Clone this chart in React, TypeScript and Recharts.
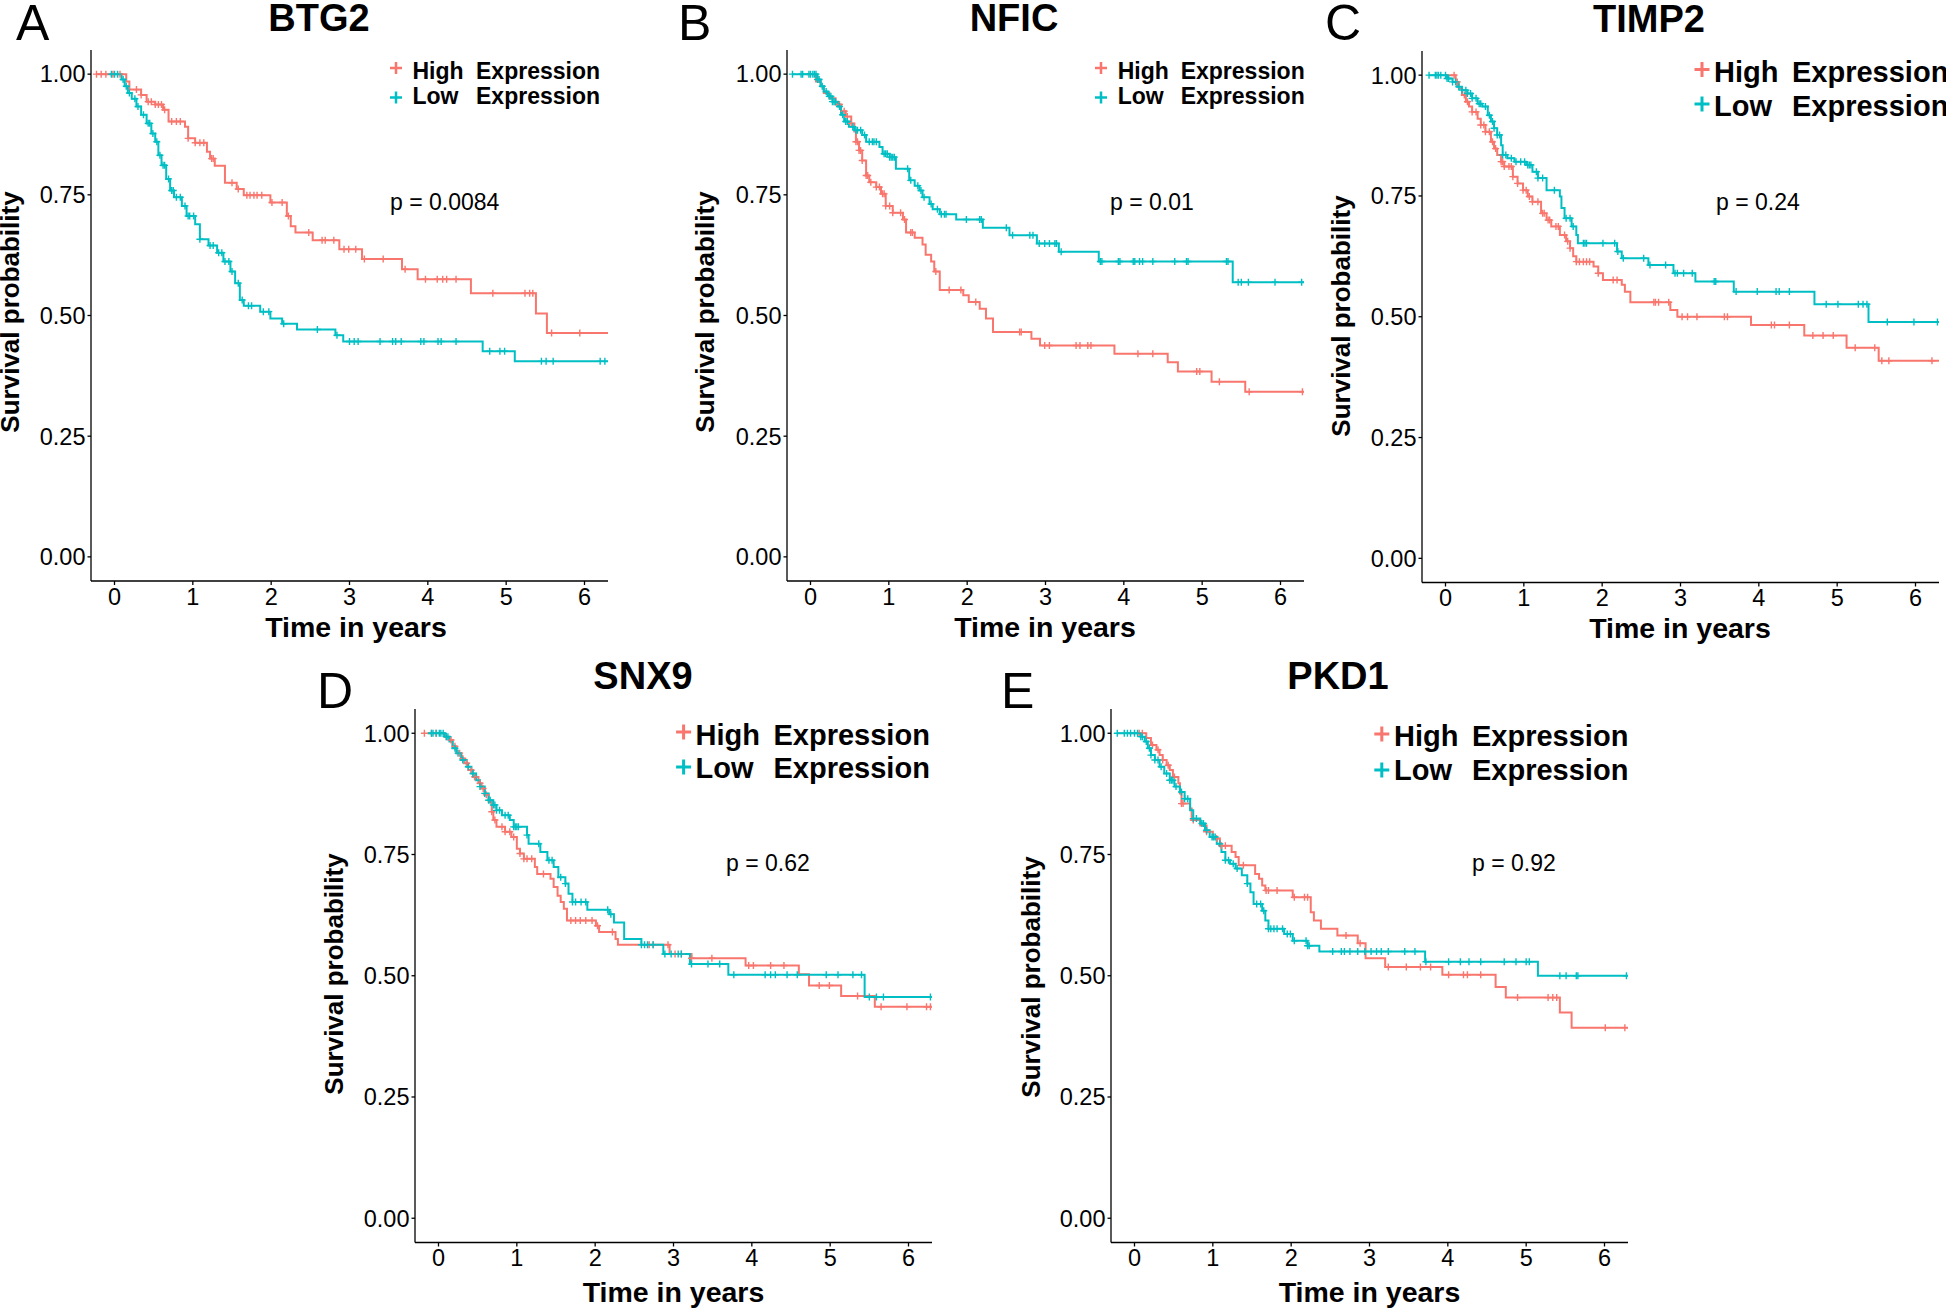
import React from 'react'
import { ComposedChart, Line, Scatter, XAxis, YAxis } from 'recharts'

type Step = [number, number]

const HIGH_COLOR = '#F8766D'
const LOW_COLOR = '#00BFC4'
const FONT = '"Liberation Sans", Arial, Helvetica, sans-serif'

const timeTicks = [0, 1, 2, 3, 4, 5, 6]
const survTicks = [0, 0.25, 0.5, 0.75, 1]
const T_MIN = -0.3
const T_MAX = 6.3
const T_END = 6.3
const S_MIN = -0.05
const S_MAX = 1.05

// A - BTG2
const btg2HighSteps: Step[] = [
  [-0.23, 1], [0.15, 0.985], [0.19, 0.968], [0.34, 0.957], [0.41, 0.943], [0.52, 0.937], [0.62, 0.926],
  [0.69, 0.902], [0.9, 0.891], [0.94, 0.867], [1.03, 0.858], [1.18, 0.839], [1.22, 0.825], [1.28, 0.81],
  [1.41, 0.775], [1.56, 0.762], [1.65, 0.749], [1.99, 0.734], [2.2, 0.706], [2.25, 0.685], [2.31, 0.672],
  [2.53, 0.656], [2.87, 0.637], [3.16, 0.617], [3.67, 0.596], [3.87, 0.575], [4.55, 0.546], [5.38, 0.504],
  [5.52, 0.464],
]
const btg2HighCensor = [
  -0.23, -0.17, -0.11, -0.02, 0.07, 0.28, 0.34, 0.43, 0.47, 0.52, 0.56, 0.6, 0.64, 0.73, 0.79, 0.84, 0.94,
  1.03, 1.09, 1.14, 1.24, 1.26, 1.5, 1.58, 1.69, 1.73, 1.78, 1.82, 1.88, 2.01, 2.14, 2.22, 2.48, 2.65, 2.69,
  2.8, 2.93, 2.99, 3.08, 3.19, 3.43, 3.71, 3.97, 4.12, 4.19, 4.24, 4.36, 4.83, 5.24, 5.3, 5.34, 5.58, 5.94,
]
const btg2LowSteps: Step[] = [
  [-0.06, 1], [0.09, 0.989], [0.13, 0.975], [0.17, 0.961], [0.22, 0.949], [0.28, 0.933], [0.34, 0.916],
  [0.41, 0.898], [0.47, 0.877], [0.52, 0.86], [0.56, 0.832], [0.6, 0.811], [0.66, 0.783], [0.71, 0.759],
  [0.76, 0.745], [0.86, 0.727], [0.92, 0.706], [1.03, 0.689], [1.09, 0.658], [1.2, 0.645], [1.31, 0.63],
  [1.39, 0.612], [1.48, 0.591], [1.54, 0.567], [1.6, 0.532], [1.65, 0.52], [1.86, 0.508], [1.99, 0.494],
  [2.14, 0.483], [2.33, 0.471], [2.82, 0.459], [2.92, 0.446], [4.7, 0.426], [5.11, 0.405],
]
const btg2LowCensor = [
  -0.04, 0, 0.04, 0.11, 0.15, 0.19, 0.26, 0.3, 0.37, 0.43, 0.45, 0.49, 0.54, 0.58, 0.62, 0.64, 0.69, 0.73,
  0.75, 0.79, 0.84, 0.9, 0.94, 0.96, 1.01, 1.09, 1.22, 1.26, 1.33, 1.37, 1.41, 1.46, 1.5, 1.58, 1.63, 1.71,
  1.75, 1.9, 1.97, 2.16, 2.59, 2.84, 3.0, 3.06, 3.11, 3.39, 3.55, 3.59, 3.66, 3.91, 3.95, 4.13, 4.17, 4.36,
  4.79, 4.92, 4.98, 5.45, 5.51, 5.6, 6.2, 6.26,
]

// B - NFIC
const nficHighSteps: Step[] = [
  [-0.05, 1], [0.07, 0.985], [0.13, 0.975], [0.17, 0.961], [0.24, 0.95], [0.32, 0.937], [0.39, 0.923],
  [0.45, 0.912], [0.52, 0.898], [0.56, 0.881], [0.58, 0.86], [0.62, 0.842], [0.66, 0.821], [0.71, 0.79],
  [0.75, 0.776], [0.84, 0.766], [0.9, 0.752], [0.96, 0.727], [1.05, 0.713], [1.18, 0.699], [1.22, 0.672],
  [1.33, 0.661], [1.43, 0.647], [1.47, 0.626], [1.54, 0.612], [1.58, 0.591], [1.65, 0.553], [1.95, 0.542],
  [2.02, 0.528], [2.16, 0.514], [2.24, 0.494], [2.33, 0.466], [2.82, 0.452], [2.93, 0.438], [3.88, 0.421],
  [4.56, 0.403], [4.69, 0.384], [5.12, 0.363], [5.55, 0.342],
]
const nficHighCensor = [
  0.37, 0.43, 0.47, 0.52, 0.58, 0.6, 0.62, 0.64, 0.66, 0.71, 0.73, 0.77, 0.84, 0.88, 0.92, 0.94, 0.96, 1.01,
  1.05, 1.15, 1.2, 1.28, 1.3, 1.6, 1.77, 1.92, 2.11, 2.67, 2.69, 2.99, 3.05, 3.39, 3.44, 3.54, 3.58, 4.18,
  4.37, 4.93, 4.97, 5.22, 5.6, 6.28,
]
const nficLowSteps: Step[] = [
  [-0.23, 1], [0.09, 0.989], [0.13, 0.975], [0.17, 0.964], [0.22, 0.954], [0.28, 0.943], [0.35, 0.933],
  [0.39, 0.916], [0.43, 0.902], [0.49, 0.891], [0.56, 0.884], [0.66, 0.874], [0.71, 0.86], [0.88, 0.849],
  [0.92, 0.835], [1.01, 0.828], [1.09, 0.804], [1.26, 0.78], [1.33, 0.769], [1.39, 0.759], [1.43, 0.745],
  [1.52, 0.731], [1.56, 0.72], [1.65, 0.71], [1.86, 0.699], [2.2, 0.682], [2.54, 0.666], [2.89, 0.649],
  [3.17, 0.632], [3.68, 0.612], [5.39, 0.569],
]
const nficLowCensor = [
  -0.23, -0.12, -0.1, -0.02, 0, 0.03, 0.05, 0.07, 0.09, 0.11, 0.15, 0.2, 0.24, 0.26, 0.28, 0.3, 0.32, 0.37,
  0.41, 0.45, 0.47, 0.54, 0.58, 0.6, 0.64, 0.69, 0.75, 0.79, 0.81, 0.84, 0.94, 0.96, 0.98, 1.01, 1.03, 1.05,
  1.07, 1.24, 1.28, 1.37, 1.41, 1.45, 1.54, 1.62, 1.67, 1.71, 1.73, 1.99, 2.16, 2.18, 2.5, 2.58, 2.8, 2.84,
  2.92, 2.99, 3.05, 3.12, 3.14, 3.2, 3.7, 3.72, 3.93, 3.95, 4.12, 4.14, 4.2, 4.24, 4.37, 4.65, 4.8, 4.82,
  5.31, 5.33, 5.46, 5.5, 5.59, 5.93, 6.27,
]

// C - TIMP2
const timp2HighSteps: Step[] = [
  [0, 1], [0.13, 0.986], [0.17, 0.972], [0.21, 0.959], [0.26, 0.945], [0.3, 0.935], [0.34, 0.924],
  [0.41, 0.91], [0.45, 0.897], [0.51, 0.883], [0.58, 0.862], [0.62, 0.848], [0.66, 0.835], [0.71, 0.821],
  [0.75, 0.811], [0.86, 0.79], [0.92, 0.776], [0.99, 0.762], [1.05, 0.749], [1.11, 0.738], [1.22, 0.714],
  [1.29, 0.7], [1.35, 0.687], [1.46, 0.669], [1.54, 0.656], [1.59, 0.642], [1.63, 0.625], [1.67, 0.614],
  [1.89, 0.604], [1.95, 0.59], [2.01, 0.576], [2.25, 0.566], [2.29, 0.552], [2.36, 0.53], [2.87, 0.514],
  [2.96, 0.5], [3.9, 0.483], [4.58, 0.461], [5.12, 0.436], [5.53, 0.409],
]
const timp2HighCensor = [
  0.11, 0.15, 0.24, 0.28, 0.34, 0.39, 0.45, 0.49, 0.51, 0.56, 0.6, 0.64, 0.71, 0.73, 0.75, 0.81, 0.84, 0.86,
  0.92, 0.99, 1.03, 1.07, 1.11, 1.18, 1.24, 1.26, 1.31, 1.33, 1.41, 1.44, 1.52, 1.56, 1.59, 1.67, 1.71, 1.76,
  1.8, 1.84, 1.95, 2.14, 2.19, 2.66, 2.68, 2.72, 2.85, 3.02, 3.09, 3.21, 3.56, 3.6, 4.16, 4.2, 4.39, 4.69,
  4.82, 4.95, 5.23, 5.48, 5.57, 5.66, 6.21,
]
const timp2LowSteps: Step[] = [
  [-0.21, 1], [0.02, 0.993], [0.09, 0.986], [0.15, 0.976], [0.21, 0.969], [0.28, 0.962], [0.34, 0.952],
  [0.41, 0.941], [0.47, 0.935], [0.54, 0.917], [0.58, 0.904], [0.62, 0.89], [0.66, 0.876], [0.71, 0.855],
  [0.73, 0.835], [0.79, 0.828], [0.88, 0.821], [1.03, 0.814], [1.11, 0.8], [1.18, 0.787], [1.29, 0.762],
  [1.46, 0.749], [1.48, 0.725], [1.52, 0.704], [1.61, 0.687], [1.67, 0.669], [1.69, 0.652], [2.19, 0.635],
  [2.25, 0.621], [2.59, 0.607], [2.91, 0.59], [3.19, 0.573], [3.68, 0.552], [4.71, 0.526], [5.4, 0.489],
]
const timp2LowCensor = [
  -0.21, -0.13, -0.11, -0.09, -0.06, 0, 0.02, 0.04, 0.09, 0.13, 0.17, 0.21, 0.26, 0.28, 0.32, 0.34, 0.39,
  0.43, 0.45, 0.51, 0.56, 0.6, 0.62, 0.66, 0.69, 0.73, 0.77, 0.84, 0.9, 0.96, 1.01, 1.05, 1.07, 1.09, 1.16,
  1.18, 1.24, 1.39, 1.54, 1.59, 1.63, 1.76, 1.78, 1.8, 2.01, 2.16, 2.2, 2.27, 2.53, 2.61, 2.81, 2.93, 2.96,
  3.04, 3.15, 3.43, 3.45, 3.71, 3.98, 4.22, 4.26, 4.39, 4.86, 5.01, 5.27, 5.33, 5.38, 5.64, 5.98, 6.28,
]

// D - SNX9
const snx9HighSteps: Step[] = [
  [-0.13, 1], [0.08, 0.993], [0.14, 0.986], [0.18, 0.973], [0.23, 0.959], [0.29, 0.948], [0.33, 0.938],
  [0.38, 0.924], [0.44, 0.91], [0.51, 0.897], [0.55, 0.886], [0.59, 0.873], [0.64, 0.859], [0.68, 0.838],
  [0.7, 0.821], [0.74, 0.807], [0.85, 0.797], [0.93, 0.786], [1.0, 0.762], [1.04, 0.752], [1.09, 0.741],
  [1.23, 0.724], [1.26, 0.71], [1.43, 0.7], [1.47, 0.683], [1.52, 0.665], [1.56, 0.652], [1.6, 0.638],
  [1.64, 0.614], [2.01, 0.603], [2.05, 0.59], [2.26, 0.576], [2.29, 0.564], [2.95, 0.545], [3.23, 0.536],
  [3.92, 0.521], [4.6, 0.503], [4.73, 0.48], [5.14, 0.458], [5.57, 0.436],
]
const snx9HighCensor = [
  -0.18, -0.09, -0.03, 0.1, 0.16, 0.21, 0.27, 0.31, 0.36, 0.42, 0.46, 0.53, 0.57, 0.61, 0.68, 0.72, 0.81,
  0.85, 0.91, 0.96, 1.04, 1.09, 1.13, 1.19, 1.34, 1.69, 1.75, 1.81, 1.88, 1.96, 2.03, 2.22, 2.69, 2.74, 2.93,
  3.02, 3.1, 3.23, 3.49, 3.96, 4.02, 4.24, 4.41, 4.86, 4.99, 5.35, 5.65, 5.98, 6.23, 6.28,
]
const snx9LowSteps: Step[] = [
  [-0.14, 1], [0.08, 0.993], [0.14, 0.983], [0.18, 0.969], [0.23, 0.959], [0.29, 0.945], [0.36, 0.931],
  [0.42, 0.917], [0.48, 0.903], [0.53, 0.89], [0.59, 0.876], [0.64, 0.862], [0.7, 0.852], [0.74, 0.841],
  [0.81, 0.831], [0.91, 0.821], [0.96, 0.807], [1.13, 0.79], [1.15, 0.772], [1.3, 0.755], [1.39, 0.738],
  [1.47, 0.724], [1.53, 0.703], [1.62, 0.69], [1.66, 0.669], [1.71, 0.652], [1.9, 0.636], [2.18, 0.627],
  [2.24, 0.61], [2.37, 0.576], [2.59, 0.564], [2.87, 0.545], [3.21, 0.524], [3.7, 0.502], [5.44, 0.456],
]
const snx9LowCensor = [
  -0.09, -0.07, -0.03, 0.01, 0.03, 0.06, 0.1, 0.12, 0.21, 0.25, 0.31, 0.38, 0.44, 0.53, 0.59, 0.64, 0.66,
  0.7, 0.72, 0.74, 0.78, 0.85, 0.89, 0.96, 0.98, 1.0, 1.02, 1.13, 1.28, 1.41, 1.45, 1.56, 1.62, 1.71, 1.75,
  1.82, 1.88, 2.16, 2.2, 2.59, 2.63, 2.67, 2.74, 2.89, 2.97, 3.06, 3.1, 3.23, 3.44, 3.59, 3.77, 4.17, 4.24,
  4.3, 4.45, 4.58, 4.95, 5.1, 5.29, 5.4, 5.5, 5.59, 5.68, 6.28,
]

// E - PKD1
const pkd1HighSteps: Step[] = [
  [-0.07, 1], [0.15, 0.99], [0.21, 0.976], [0.28, 0.966], [0.32, 0.955], [0.36, 0.945], [0.41, 0.934],
  [0.45, 0.924], [0.49, 0.91], [0.56, 0.897], [0.58, 0.876], [0.6, 0.855], [0.71, 0.845], [0.73, 0.821],
  [0.84, 0.81], [0.92, 0.797], [1.0, 0.783], [1.09, 0.768], [1.24, 0.755], [1.29, 0.745], [1.33, 0.728],
  [1.54, 0.71], [1.59, 0.7], [1.63, 0.686], [1.67, 0.676], [2.02, 0.662], [2.25, 0.631], [2.29, 0.614],
  [2.38, 0.597], [2.59, 0.583], [2.85, 0.567], [2.95, 0.536], [3.2, 0.518], [3.93, 0.502], [4.61, 0.477],
  [4.74, 0.455], [5.43, 0.424], [5.58, 0.393],
]
const pkd1HighCensor = [
  0.06, 0.1, 0.23, 0.3, 0.36, 0.43, 0.51, 0.6, 0.62, 0.75, 0.92, 1.05, 1.11, 1.16, 1.39, 1.68, 1.71, 1.82,
  2.04, 2.17, 2.21, 2.7, 2.88, 3.24, 3.47, 3.65, 3.78, 4.01, 4.2, 4.25, 4.42, 4.89, 5.28, 5.34, 5.39, 6.01,
  6.26,
]
const pkd1LowSteps: Step[] = [
  [-0.22, 1], [0.08, 0.993], [0.13, 0.983], [0.17, 0.969], [0.21, 0.955], [0.26, 0.945], [0.32, 0.931],
  [0.38, 0.917], [0.45, 0.903], [0.51, 0.89], [0.58, 0.879], [0.64, 0.865], [0.71, 0.841], [0.75, 0.824],
  [0.84, 0.814], [0.9, 0.8], [0.96, 0.786], [1.05, 0.772], [1.11, 0.755], [1.16, 0.738], [1.22, 0.731],
  [1.29, 0.721], [1.37, 0.707], [1.44, 0.69], [1.48, 0.672], [1.52, 0.648], [1.63, 0.634], [1.67, 0.614],
  [1.71, 0.597], [1.91, 0.586], [2.02, 0.572], [2.21, 0.562], [2.36, 0.55], [3.71, 0.529], [5.15, 0.5],
]
const pkd1LowCensor = [
  -0.22, -0.13, -0.09, -0.05, 0, 0.04, 0.08, 0.1, 0.15, 0.19, 0.21, 0.26, 0.3, 0.34, 0.41, 0.45, 0.47, 0.49,
  0.53, 0.6, 0.64, 0.68, 0.75, 0.79, 0.86, 0.88, 0.92, 0.99, 1.01, 1.03, 1.09, 1.16, 1.2, 1.26, 1.31, 1.44,
  1.56, 1.61, 1.65, 1.71, 1.74, 1.78, 1.82, 1.89, 1.95, 1.99, 2.04, 2.19, 2.21, 2.23, 2.53, 2.64, 2.68, 2.75,
  2.85, 2.94, 3.02, 3.09, 3.15, 3.24, 3.45, 3.58, 3.72, 4.01, 4.16, 4.27, 4.42, 4.72, 4.87, 5.0, 5.04, 5.43,
  5.51, 5.64, 5.66, 6.28,
]

type Pt = { t: number; s: number }

function survAt(steps: Step[], t: number): number {
  let s = steps[0][1]
  for (const [st, sv] of steps) {
    if (st <= t) s = sv
  }
  return s
}

function buildCurve(steps: Step[], censor: number[]) {
  const line: Pt[] = steps.map(([t, s]) => ({ t, s }))
  line.push({ t: T_END, s: steps[steps.length - 1][1] })
  const marks: Pt[] = censor.map((t) => ({ t, s: survAt(steps, t) }))
  return { line, marks }
}

type PanelCfg = {
  letter: string
  gene: string
  pText: string
  high: ReturnType<typeof buildCurve>
  low: ReturnType<typeof buildCurve>
  axisX: number
  plotTop: number
  plotH: number
  letterX: number
  letterY: number
  titleX: number
  titleY: number
  legPlusX: number
  legPlusY: [number, number]
  legTextX: number
  legExprX: number
  legBase: [number, number]
  legFont: number
  legPlus: number
  pX: number
  pY: number
  xTitleX: number
  xTitleY: number
  yTitleX: number
  yTitleY: number
}

const PLOT_W = 517

const panels: PanelCfg[] = [
  {
    letter: 'A', gene: 'BTG2', pText: 'p = 0.0084',
    high: buildCurve(btg2HighSteps, btg2HighCensor), low: buildCurve(btg2LowSteps, btg2LowCensor),
    axisX: 90.7, plotTop: 49.5, plotH: 531, letterX: 16, letterY: 40, titleX: 319, titleY: 31,
    legPlusX: 396, legPlusY: [68, 97.5], legTextX: 412.5, legExprX: 476, legBase: [78.5, 104], legFont: 23, legPlus: 12,
    pX: 390, pY: 209.5, xTitleX: 356, xTitleY: 637, yTitleX: 19, yTitleY: 312,
  },
  {
    letter: 'B', gene: 'NFIC', pText: 'p = 0.01',
    high: buildCurve(nficHighSteps, nficHighCensor), low: buildCurve(nficLowSteps, nficLowCensor),
    axisX: 787, plotTop: 49.5, plotH: 531, letterX: 678, letterY: 40, titleX: 1014, titleY: 31,
    legPlusX: 1101, legPlusY: [68, 97.5], legTextX: 1117.7, legExprX: 1180.7, legBase: [78.5, 104], legFont: 23, legPlus: 12,
    pX: 1110, pY: 209.5, xTitleX: 1045, xTitleY: 637, yTitleX: 714, yTitleY: 312,
  },
  {
    letter: 'C', gene: 'TIMP2', pText: 'p = 0.24',
    high: buildCurve(timp2HighSteps, timp2HighCensor), low: buildCurve(timp2LowSteps, timp2LowCensor),
    axisX: 1422, plotTop: 51, plotH: 531.5, letterX: 1325, letterY: 40, titleX: 1649, titleY: 32,
    legPlusX: 1702, legPlusY: [69.5, 104], legTextX: 1714, legExprX: 1792, legBase: [82, 115.5], legFont: 29, legPlus: 15,
    pX: 1716, pY: 210, xTitleX: 1680, xTitleY: 638, yTitleX: 1350, yTitleY: 316,
  },
  {
    letter: 'D', gene: 'SNX9', pText: 'p = 0.62',
    high: buildCurve(snx9HighSteps, snx9HighCensor), low: buildCurve(snx9LowSteps, snx9LowCensor),
    axisX: 415, plotTop: 709, plotH: 533.5, letterX: 317, letterY: 708, titleX: 643, titleY: 689,
    legPlusX: 683.6, legPlusY: [732, 767], legTextX: 695.6, legExprX: 773.5, legBase: [744.7, 778.4], legFont: 29, legPlus: 15,
    pX: 726, pY: 871, xTitleX: 673.5, xTitleY: 1301.5, yTitleX: 343, yTitleY: 974,
  },
  {
    letter: 'E', gene: 'PKD1', pText: 'p = 0.92',
    high: buildCurve(pkd1HighSteps, pkd1HighCensor), low: buildCurve(pkd1LowSteps, pkd1LowCensor),
    axisX: 1111, plotTop: 709, plotH: 533.5, letterX: 1001, letterY: 708, titleX: 1338, titleY: 689,
    legPlusX: 1381.8, legPlusY: [734, 770], legTextX: 1394, legExprX: 1472, legBase: [746, 779.6], legFont: 29, legPlus: 15,
    pX: 1472, pY: 871, xTitleX: 1369.5, xTitleY: 1302, yTitleX: 1040, yTitleY: 977,
  },
]

function censorShape(color: string) {
  return (props: any) => {
    const { cx, cy } = props
    if (cx == null || cy == null || Number.isNaN(cx)) return <g />
    return (
      <path
        d={`M${cx - 3.5},${cy}h7M${cx},${cy - 3.5}v7`}
        stroke={color}
        strokeWidth={1.4}
        fill="none"
      />
    )
  }
}

const ML = 80
const MT = 10
const MR = 10
const MB = 40

function KMPanel({ cfg }: { cfg: PanelCfg }) {
  const tickStyle = { fill: '#000', fontSize: 23.5, fontFamily: FONT }
  return (
    <div style={{ position: 'absolute', left: cfg.axisX - ML, top: cfg.plotTop - MT }}>
      <ComposedChart
        width={ML + PLOT_W + MR}
        height={MT + cfg.plotH + MB}
        margin={{ top: MT, right: MR, bottom: 0, left: 0 }}
      >
        <XAxis
          type="number"
          dataKey="t"
          domain={[T_MIN, T_MAX]}
          ticks={timeTicks}
          interval={0}
          allowDataOverflow
          height={MB}
          tickSize={4}
          tickMargin={3}
          stroke="#000"
          strokeWidth={1.3}
          tick={tickStyle}
        />
        <YAxis
          type="number"
          dataKey="s"
          domain={[S_MIN, S_MAX]}
          ticks={survTicks}
          interval={0}
          allowDataOverflow
          width={ML}
          tickSize={3.5}
          tickMargin={2}
          stroke="#000"
          strokeWidth={1.3}
          tick={tickStyle}
          tickFormatter={(v: number) => v.toFixed(2)}
        />
        <Line
          data={cfg.high.line}
          dataKey="s"
          type="stepAfter"
          stroke={HIGH_COLOR}
          strokeWidth={2}
          dot={false}
          activeDot={false}
          isAnimationActive={false}
        />
        <Line
          data={cfg.low.line}
          dataKey="s"
          type="stepAfter"
          stroke={LOW_COLOR}
          strokeWidth={2}
          dot={false}
          activeDot={false}
          isAnimationActive={false}
        />
        <Scatter data={cfg.high.marks} dataKey="s" shape={censorShape(HIGH_COLOR)} isAnimationActive={false} />
        <Scatter data={cfg.low.marks} dataKey="s" shape={censorShape(LOW_COLOR)} isAnimationActive={false} />
      </ComposedChart>
    </div>
  )
}

function Annotations({ cfg }: { cfg: PanelCfg }) {
  const h = cfg.legPlus / 2
  const legend = [
    { label: 'High', color: HIGH_COLOR },
    { label: 'Low', color: LOW_COLOR },
  ]
  return (
    <g fontFamily={FONT} fill="#000">
      <text x={cfg.letterX} y={cfg.letterY} fontSize={50}>
        {cfg.letter}
      </text>
      <text x={cfg.titleX} y={cfg.titleY} fontSize={38} fontWeight="bold" textAnchor="middle">
        {cfg.gene}
      </text>
      {legend.map((item, i) => (
        <g key={item.label}>
          <path
            d={`M${cfg.legPlusX - h},${cfg.legPlusY[i]}h${cfg.legPlus}M${cfg.legPlusX},${cfg.legPlusY[i] - h}v${cfg.legPlus}`}
            stroke={item.color}
            strokeWidth={cfg.legFont > 25 ? 3 : 2.5}
          />
          <text x={cfg.legTextX} y={cfg.legBase[i]} fontSize={cfg.legFont} fontWeight="bold">
            {item.label}
          </text>
          <text x={cfg.legExprX} y={cfg.legBase[i]} fontSize={cfg.legFont} fontWeight="bold">
            Expression
          </text>
        </g>
      ))}
      <text x={cfg.pX} y={cfg.pY} fontSize={23}>
        {cfg.pText}
      </text>
      <text x={cfg.xTitleX} y={cfg.xTitleY} fontSize={28.5} fontWeight="bold" textAnchor="middle">
        Time in years
      </text>
      <text
        x={cfg.yTitleX}
        y={cfg.yTitleY}
        fontSize={26}
        fontWeight="bold"
        textAnchor="middle"
        transform={`rotate(-90 ${cfg.yTitleX} ${cfg.yTitleY})`}
      >
        Survival probability
      </text>
    </g>
  )
}

export default function App() {
  return (
    <div
      style={{
        position: 'absolute',
        left: 0,
        top: 0,
        width: 1946,
        height: 1310,
        background: '#fff',
        overflow: 'hidden',
      }}
    >
      {panels.map((cfg) => (
        <KMPanel key={cfg.letter} cfg={cfg} />
      ))}
      <svg
        width={1946}
        height={1310}
        style={{ position: 'absolute', left: 0, top: 0, pointerEvents: 'none' }}
      >
        {panels.map((cfg) => (
          <Annotations key={cfg.letter} cfg={cfg} />
        ))}
      </svg>
    </div>
  )
}
